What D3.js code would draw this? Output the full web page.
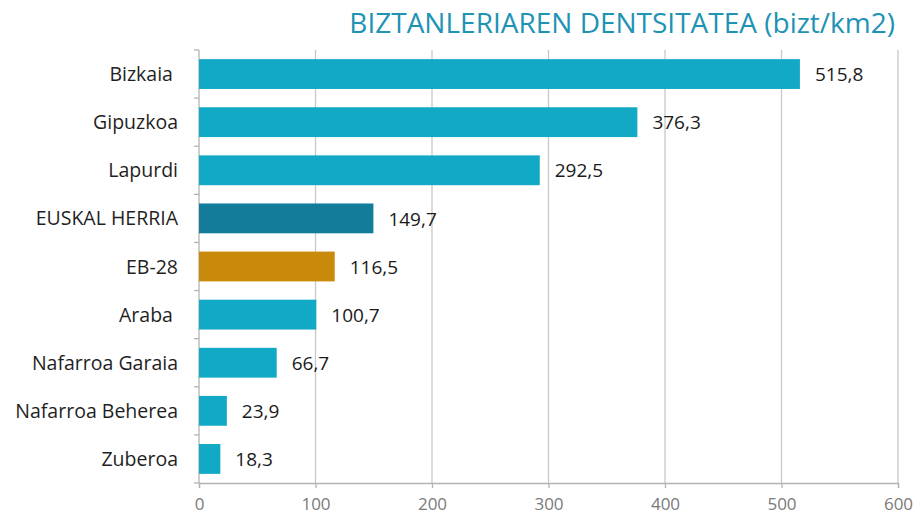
<!DOCTYPE html>
<html>
<head>
<meta charset="utf-8">
<script src="https://cdn.jsdelivr.net/npm/d3@7"></script>
<style>
  body { margin: 0; background: #fff; }
  text { font-family: "Open Sans", Lato, sans-serif; }
</style>
</head>
<body>
<div id="chart-area"></div>
<script>
(function () {
  // Data (two labels carry a trailing space in the original)
  const categories = ["Bizkaia ", "Gipuzkoa", "Lapurdi", "EUSKAL HERRIA", "EB-28",
    "Araba ", "Nafarroa Garaia", "Nafarroa Beherea", "Zuberoa"];
  const values = [515.8, 376.3, 292.5, 149.7, 116.5, 100.7, 66.7, 23.9, 18.3];
  const xTicks = [0, 100, 200, 300, 400, 500, 600];
  const title = "BIZTANLERIAREN DENTSITATEA (bizt/km2)";

  const width = 918;
  const height = 521;
  const margin = { top: 50, right: 20, bottom: 38, left: 199 };
  const plotW = 898 - margin.left;
  const plotH = 483 - margin.top;

  const colorFor = function (name) {
    if (name === "EUSKAL HERRIA") return "#137c9b";
    if (name === "EB-28") return "#c98a0c";
    return "#12a9c6";
  };

  const svg = d3.select("#chart-area")
    .append("svg")
    .attr("width", width)
    .attr("height", height);

  // Title
  svg.append("text")
    .attr("x", 895)
    .attr("y", 33)
    .attr("text-anchor", "end")
    .attr("fill", "#1e93b5")
    .style("font-size", "28px")
    .text(title);

  const g = svg.append("g")
    .attr("transform", `translate(${margin.left},${margin.top})`);

  const x = d3.scaleLinear().domain([0, 600]).range([0, plotW]);
  const y = d3.scaleBand().domain(categories).range([0, plotH]).paddingInner(0.38).paddingOuter(0.19);

  // Vertical gridlines
  g.selectAll("line.grid")
    .data(xTicks.slice(1))
    .enter()
    .append("line")
    .attr("class", "grid")
    .attr("x1", d => x(d))
    .attr("x2", d => x(d))
    .attr("y1", 0)
    .attr("y2", plotH)
    .attr("stroke", "#c8c8c8")
    .attr("stroke-width", 1.3);

  // Bottom axis
  const xAxis = g.append("g")
    .attr("transform", `translate(0,${plotH})`)
    .call(d3.axisBottom(x).tickValues(xTicks).tickSize(5).tickPadding(10));
  xAxis.select(".domain").attr("stroke", "#b4b4b4").attr("stroke-width", 1.3);
  xAxis.selectAll(".tick line").attr("stroke", "#b4b4b4").attr("stroke-width", 1.3);
  xAxis.selectAll(".tick text")
    .attr("fill", "#7a7a7a")
    .style("font-size", "17px")
    .style("font-family", "'Open Sans', sans-serif");

  // Left axis: ticks between categories
  const step = y.step();
  const sepY = d3.range(categories.length + 1).map(i => i * step);
  g.append("line")
    .attr("x1", 0).attr("x2", 0)
    .attr("y1", 0).attr("y2", plotH)
    .attr("stroke", "#b4b4b4").attr("stroke-width", 1.3);
  g.selectAll("line.ytick")
    .data(sepY)
    .enter()
    .append("line")
    .attr("class", "ytick")
    .attr("x1", -5).attr("x2", 0)
    .attr("y1", d => d).attr("y2", d => d)
    .attr("stroke", "#b4b4b4").attr("stroke-width", 1.3);

  // Category labels
  g.selectAll("text.cat")
    .data(categories)
    .enter()
    .append("text")
    .attr("class", "cat")
    .attr("x", -21)
    .attr("y", d => y(d) + y.bandwidth() / 2)
    .attr("dy", "0.36em")
    .attr("text-anchor", "end")
    .attr("fill", "#1f1f1f")
    .style("font-size", "19.5px")
    .style("white-space", "pre")
    .text(d => d);

  // Bars
  g.selectAll("rect.bar")
    .data(categories)
    .enter()
    .append("rect")
    .attr("class", "bar")
    .attr("x", 0)
    .attr("y", d => y(d))
    .attr("width", (d, i) => x(values[i]))
    .attr("height", y.bandwidth())
    .attr("fill", d => colorFor(d));

  // Value labels
  g.selectAll("text.val")
    .data(categories)
    .enter()
    .append("text")
    .attr("class", "val")
    .attr("x", (d, i) => x(values[i]) + 15)
    .attr("y", d => y(d) + y.bandwidth() / 2)
    .attr("dy", "0.38em")
    .attr("fill", "#1a1a1a")
    .style("font-size", "19px")
    .text((d, i) => d3.format(".1f")(values[i]).replace(".", ","));
})();
</script>
</body>
</html>
